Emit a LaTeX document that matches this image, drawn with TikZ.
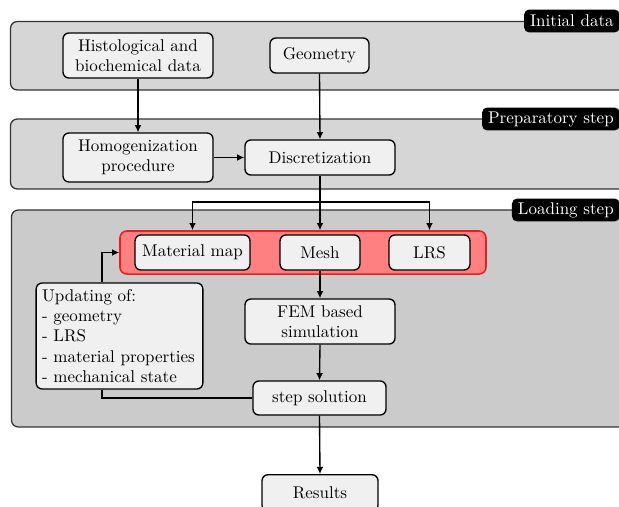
\documentclass[tikz,border=0pt]{standalone}
\usetikzlibrary{arrows.meta,calc}
\definecolor{panelA}{HTML}{D6D6D6}
\definecolor{panelB}{HTML}{CBCBCB}
\definecolor{boxfill}{HTML}{F0F0F0}
\definecolor{redfill}{HTML}{FF8080}
\definecolor{redline}{HTML}{EE1C1C}
\begin{document}
\begin{tikzpicture}[x=0.588pt,y=-0.588pt,
  panel/.style={draw=black!80,line width=0.75pt,rounded corners=4pt},
  steplabel/.style={fill=black,text=white,rounded corners=3pt,anchor=east,
    inner xsep=3.5pt,minimum height=13.5pt,inner ysep=1pt},
  box/.style={draw=black,fill=boxfill,line width=0.8pt,rounded corners=3.5pt,
    align=center,inner sep=0pt},
  arr/.style={-{Latex[length=4.2pt,width=4pt]},line width=0.8pt},
  ln/.style={line width=0.8pt}]
\useasboundingbox (0,0) rectangle (619,507);
\clip (0,0) rectangle (619,507);
% panels
\draw[panel,fill=panelA] (10.5,21.5) rectangle (650,90);
\draw[panel,fill=panelA] (10.5,119) rectangle (650,189);
\draw[panel,fill=panelB] (11.5,210) rectangle (650,427);
\node[steplabel] (l1) at (620,21) {Initial data};
\node[steplabel] (l2) at (620,119) {Preparatory step};
\node[steplabel] (l3) at (620,210) {Loading step};
% red group
\node[draw=redline,fill=redfill,line width=0.9pt,rounded corners=4pt,
  minimum width=215.2pt,minimum height=25.3pt,inner sep=0pt] (redbox) at (303,252.5) {};
% nodes
\node[box,minimum width=88.2pt,minimum height=26.5pt] (hist) at (138,55.5) {Histological and\\biochemical data};
\node[box,minimum width=58.2pt,minimum height=20.6pt] (geom) at (319.5,55.5) {Geometry};
\node[box,minimum width=88.2pt,minimum height=28.8pt] (homog) at (138,157.5) {Homogenization\\procedure};
\node[box,minimum width=88.2pt,minimum height=20.6pt] (disc) at (320,157.5) {Discretization};
\node[box,minimum width=67.6pt,minimum height=20.6pt] (matmap) at (192.5,252.5) {Material map};
\node[box,minimum width=47pt,minimum height=20.6pt] (mesh) at (320,252.5) {Mesh};
\node[box,minimum width=47.6pt,minimum height=20.6pt] (lrs) at (429.5,252.5) {LRS};
\node[box,minimum width=88.2pt,minimum height=26.5pt] (fem) at (320,321.5) {FEM based\\simulation};
\node[box,minimum width=78.2pt,minimum height=20pt] (step) at (319.5,398) {step solution};
\node[box,align=left,text width=91pt,inner xsep=3.5pt,minimum height=62.3pt] (upd) at (119.5,336)
  {Updating of:\\- geometry\\- LRS\\- material properties\\- mechanical state};
\node[box,minimum width=68.2pt,minimum height=21.5pt] (res) at (320,493) {Results};
% connectors
\coordinate (sp) at (320,202);
\coordinate (lx) at (102,0);
\draw[arr] (hist.south) -- (homog.north);
\draw[arr] (geom.south) -- (disc.north);
\draw[arr] (homog.east) -- (disc.west);
\draw[arr] (disc.south) -- (disc.south |- redbox.north);
\draw[arr] (sp) -| (matmap.north |- redbox.north);
\draw[arr] (sp) -| (lrs.north |- redbox.north);
\draw[arr] (mesh.south) -- (fem.north);
\draw[arr] (fem.south) -- (step.north);
\draw[ln] (step.west) -| (lx |- upd.south);
\draw[arr] (lx |- upd.north) |- (redbox.west);
\draw[arr] (step.south) -- (res.north);
\end{tikzpicture}
\end{document}
